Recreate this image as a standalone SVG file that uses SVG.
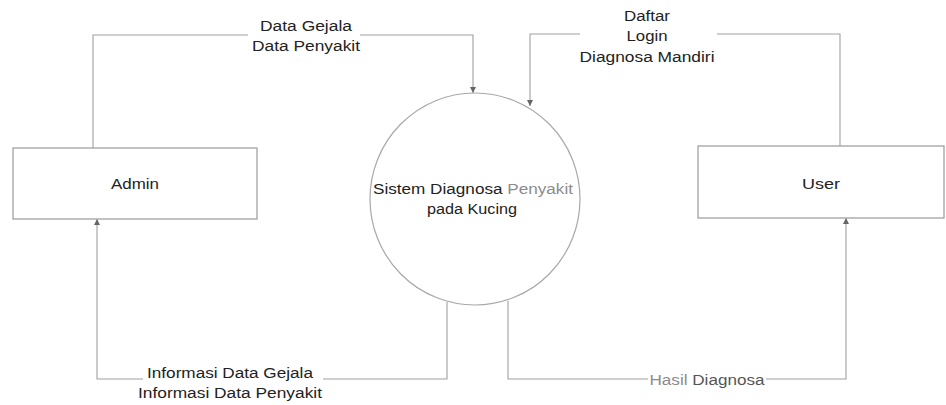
<svg xmlns="http://www.w3.org/2000/svg" width="946" height="405" viewBox="0 0 946 405">
  <style>
    .box { fill: #ffffff; stroke: #9a9a9a; stroke-width: 1.2; }
    .proc { fill: #ffffff; stroke: #a8a8a8; stroke-width: 1.2; }
    .flow { fill: none; stroke: #a0a0a0; stroke-width: 1.1; }
    .t { font-family: "Liberation Sans", Arial, sans-serif; font-size: 14px; fill: #222222; text-anchor: middle; }
    .dim { fill: #8c8c8c; }
    .mask { fill: #ffffff; }
  </style>
  <defs>
    <marker id="arrow" viewBox="0 0 10 10" refX="10" refY="5" markerWidth="6" markerHeight="6" orient="auto" markerUnits="userSpaceOnUse">
      <path d="M0,0 L10,5 L0,10 z" fill="#666666"/>
    </marker>
  </defs>

  <rect width="946" height="405" fill="#ffffff"/>

  <!-- data flows -->
  <g id="connectors">
    <path class="flow" d="M93,148 V35 H473 V93" marker-end="url(#arrow)"/>
    <path class="flow" d="M840,146 V34 H530 V106" marker-end="url(#arrow)"/>
    <path class="flow" d="M447,302 V379 H97 V219" marker-end="url(#arrow)"/>
    <path class="flow" d="M508,301 V379 H846 V218" marker-end="url(#arrow)"/>
  </g>

  <!-- flow labels -->
  <g id="label-admin-in">
    <rect class="mask" x="248" y="28" width="112" height="12"/>
    <text class="t" x="306" y="31" textLength="92" lengthAdjust="spacingAndGlyphs">Data Gejala</text>
    <text class="t" x="306" y="50.5" textLength="108" lengthAdjust="spacingAndGlyphs">Data Penyakit</text>
  </g>
  <g id="label-user-in">
    <rect class="mask" x="580" y="28" width="137" height="12"/>
    <text class="t" x="647" y="20.5" textLength="46" lengthAdjust="spacingAndGlyphs">Daftar</text>
    <text class="t" x="647" y="41" textLength="41" lengthAdjust="spacingAndGlyphs">Login</text>
    <text class="t" x="647" y="62" textLength="135" lengthAdjust="spacingAndGlyphs">Diagnosa Mandiri</text>
  </g>
  <g id="label-admin-out">
    <rect class="mask" x="143" y="370" width="180" height="14"/>
    <text class="t" x="230" y="378" textLength="166" lengthAdjust="spacingAndGlyphs">Informasi Data Gejala</text>
    <text class="t" x="230" y="398" textLength="184" lengthAdjust="spacingAndGlyphs">Informasi Data Penyakit</text>
  </g>
  <g id="label-user-out">
    <rect class="mask" x="648" y="372" width="118" height="14"/>
    <text class="t" x="707" y="385" textLength="115" lengthAdjust="spacingAndGlyphs"><tspan class="dim">Hasil</tspan> <tspan fill="#555555">Diagnosa</tspan></text>
  </g>

  <!-- external entities -->
  <g id="admin">
    <rect class="box" x="13" y="148" width="244" height="71"/>
    <text class="t" x="135" y="189" textLength="48" lengthAdjust="spacingAndGlyphs">Admin</text>
  </g>
  <g id="user">
    <rect class="box" x="698" y="146" width="246" height="72"/>
    <text class="t" x="821" y="189" textLength="38" lengthAdjust="spacingAndGlyphs">User</text>
  </g>

  <!-- process -->
  <g id="sistem">
    <ellipse class="proc" cx="475" cy="199" rx="105" ry="106"/>
    <text class="t" x="473" y="194" textLength="200" lengthAdjust="spacingAndGlyphs">Sistem Diagnosa <tspan class="dim">Penyakit</tspan></text>
    <text class="t" x="472" y="214" textLength="90" lengthAdjust="spacingAndGlyphs">pada Kucing</text>
  </g>
</svg>
